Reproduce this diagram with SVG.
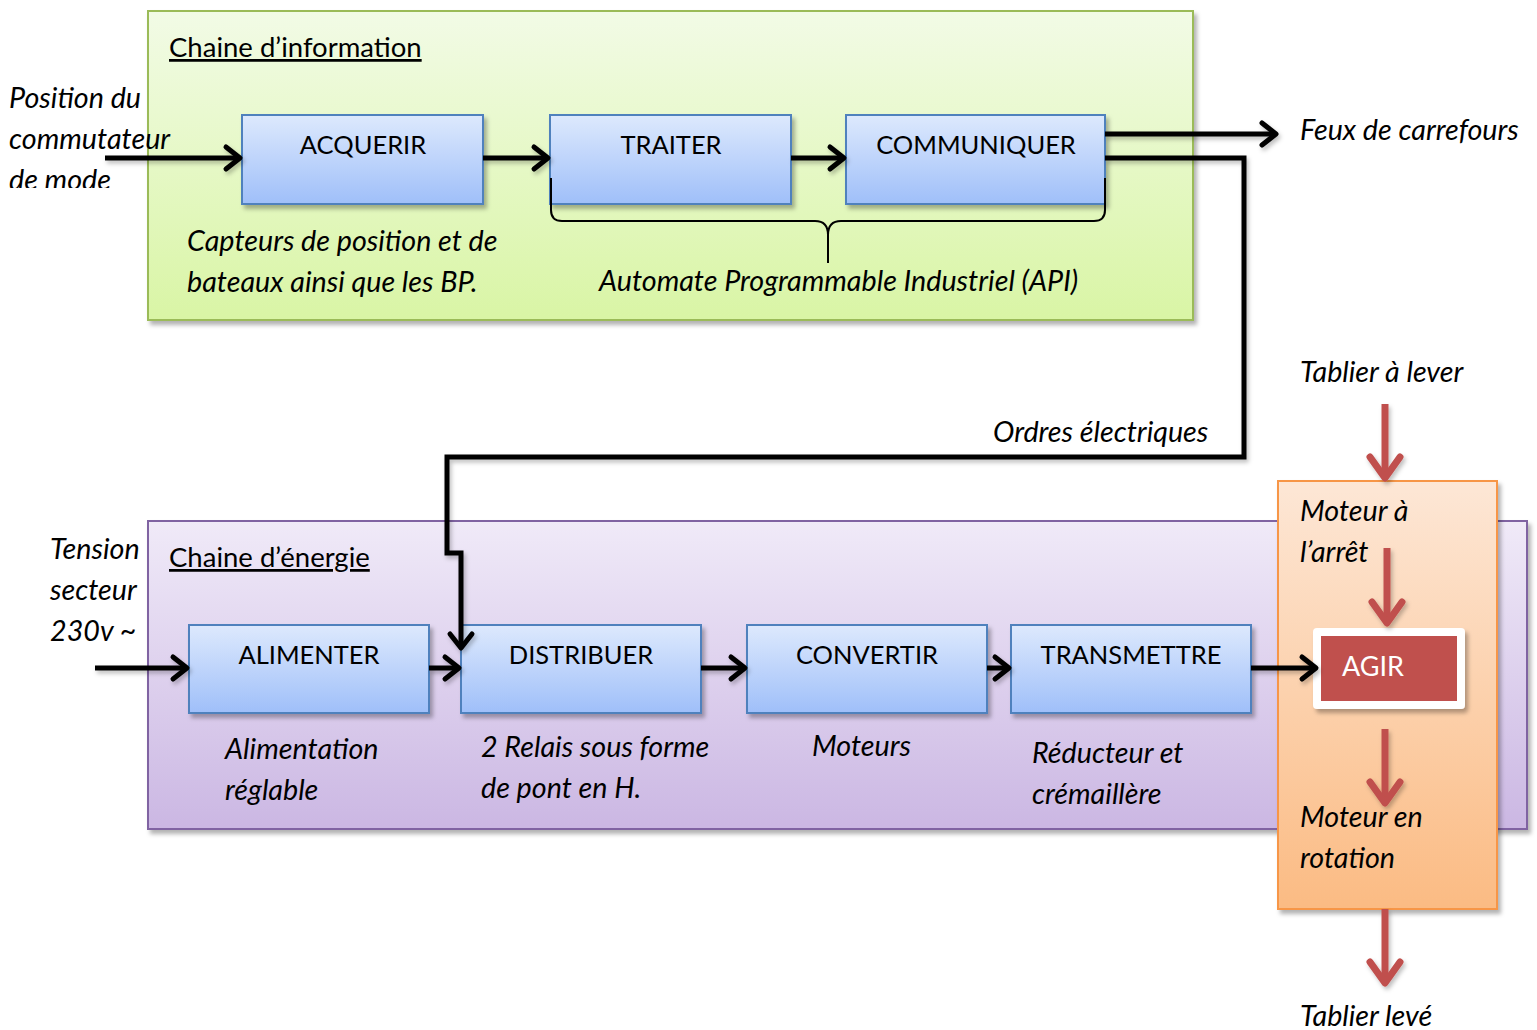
<svg xmlns="http://www.w3.org/2000/svg" width="1537" height="1030" viewBox="0 0 1537 1030">
<defs>
<style>
.t{font-family:Lato,"Liberation Sans",sans-serif;font-size:28.7px;fill:#000}
.it{font-style:italic}
.title{font-family:Lato,"Liberation Sans",sans-serif;font-size:27.5px;text-decoration:underline}
.box{fill:url(#gBlue);stroke:#4f81bd;stroke-width:2}
.bl{font-family:Lato,"Liberation Sans",sans-serif;font-size:25.5px;text-anchor:middle}
.k{fill:none;stroke:#000;stroke-width:5}
.r{fill:none;stroke:#c0504d;stroke-width:7}
</style>
<linearGradient id="gBlue" x1="0" y1="0" x2="0" y2="1"><stop offset="0" stop-color="#dde9fd"/><stop offset="1" stop-color="#9fbff9"/></linearGradient>
<linearGradient id="gGreen" x1="0" y1="0" x2="0" y2="1"><stop offset="0" stop-color="#f2fbe6"/><stop offset="1" stop-color="#d9f5a5"/></linearGradient>
<linearGradient id="gPurple" x1="0" y1="0" x2="0" y2="1"><stop offset="0" stop-color="#f0eaf8"/><stop offset="1" stop-color="#cbb7e3"/></linearGradient>
<linearGradient id="gOrange" x1="0" y1="0" x2="0" y2="1"><stop offset="0" stop-color="#fde7d6"/><stop offset="1" stop-color="#fbbb83"/></linearGradient>
<filter id="sh" x="-5%" y="-5%" width="115%" height="120%"><feDropShadow dx="3" dy="4" stdDeviation="2" flood-color="#000" flood-opacity="0.3"/></filter>
<filter id="shl" x="-5%" y="-5%" width="115%" height="120%"><feDropShadow dx="2" dy="3" stdDeviation="2" flood-color="#000" flood-opacity="0.25"/></filter>
<marker id="ak" markerUnits="userSpaceOnUse" viewBox="-20 -15 24 30" refX="0" refY="0" markerWidth="24" markerHeight="30" orient="auto">
<path d="M-14,-11 L0,0 L-14,11" fill="none" stroke="#000" stroke-width="5" stroke-linecap="round" stroke-linejoin="round"/>
</marker>
<marker id="ar" markerUnits="userSpaceOnUse" viewBox="-30 -22 34 44" refX="0" refY="0" markerWidth="34" markerHeight="44" orient="auto">
<path d="M-21,-15 L0,0 L-21,15" fill="none" stroke="#c0504d" stroke-width="7" stroke-linecap="round" stroke-linejoin="round"/>
</marker>
<clipPath id="clipTop"><rect x="0" y="0" width="300" height="188"/></clipPath>
</defs>

<rect width="1537" height="1030" fill="#fff"/>

<g id="chaine-information">
<rect x="148" y="11" width="1045" height="309" fill="url(#gGreen)" stroke="#9bbb59" stroke-width="2" filter="url(#sh)"/>
<text class="title" x="169" y="57">Chaine d’information</text>
</g>

<g id="chaine-energie">
<rect x="148" y="521" width="1379" height="308" fill="url(#gPurple)" stroke="#8064a2" stroke-width="2" filter="url(#sh)"/>
<text class="title" x="169" y="567">Chaine d’énergie</text>
</g>

<g id="agir-zone">
<rect x="1278" y="481" width="219" height="428" fill="url(#gOrange)" stroke="#f79646" stroke-width="2" filter="url(#sh)"/>
<text class="t it" x="1300" y="521">Moteur à</text>
<text class="t it" x="1300" y="562">l’arrêt</text>
<text class="t it" x="1300" y="827">Moteur en</text>
<text class="t it" x="1300" y="868">rotation</text>
</g>

<g id="acquerir">
<rect class="box" x="242" y="115" width="241" height="89" filter="url(#sh)"/>
<text class="bl" x="363" y="154">ACQUERIR</text>
</g>
<g id="traiter">
<rect class="box" x="550" y="115" width="241" height="89" filter="url(#sh)"/>
<text class="bl" x="671" y="154">TRAITER</text>
</g>
<g id="communiquer">
<rect class="box" x="846" y="115" width="259" height="89" filter="url(#sh)"/>
<text class="bl" x="976" y="154">COMMUNIQUER</text>
</g>

<g id="alimenter">
<rect class="box" x="189" y="625" width="240" height="88" filter="url(#sh)"/>
<text class="bl" x="309" y="664">ALIMENTER</text>
</g>
<g id="distribuer">
<rect class="box" x="461" y="625" width="240" height="88" filter="url(#sh)"/>
<text class="bl" x="581" y="664">DISTRIBUER</text>
</g>
<g id="convertir">
<rect class="box" x="747" y="625" width="240" height="88" filter="url(#sh)"/>
<text class="bl" x="867" y="664">CONVERTIR</text>
</g>
<g id="transmettre">
<rect class="box" x="1011" y="625" width="240" height="88" filter="url(#sh)"/>
<text class="bl" x="1131" y="664">TRANSMETTRE</text>
</g>

<g id="agir">
<rect x="1313" y="628" width="152" height="81" rx="4" fill="#fff" filter="url(#sh)"/>
<rect x="1321" y="636" width="136" height="65" fill="#c0504d"/>
<text class="t" x="1342" y="676" style="fill:#fff;font-size:27px">AGIR</text>
</g>

<g id="api-brace">
<path d="M551,178 L551,210 Q551,221 562,221 L815,221 Q828,221 828,235 L828,263 M828,235 Q828,221 841,221 L1094,221 Q1105,221 1105,210 L1105,178" fill="none" stroke="#000" stroke-width="2"/>
</g>

<g id="connectors" filter="url(#shl)">
<path class="k" d="M105,158 H240" marker-end="url(#ak)"/>
<path class="k" d="M483,158 H548" marker-end="url(#ak)"/>
<path class="k" d="M791,158 H844" marker-end="url(#ak)"/>
<path class="k" d="M1105,134 H1276" marker-end="url(#ak)"/>
<path class="k" d="M1105,158 H1244 V457 H447 V553 H461 V648" stroke-linejoin="miter" marker-end="url(#ak)"/>
<path class="k" d="M95,668 H187" marker-end="url(#ak)"/>
<path class="k" d="M429,668 H459" marker-end="url(#ak)"/>
<path class="k" d="M701,668 H745" marker-end="url(#ak)"/>
<path class="k" d="M987,668 H1009" marker-end="url(#ak)"/>
<path class="k" d="M1251,668 H1316" marker-end="url(#ak)"/>
<path class="r" d="M1385,404 V478" marker-end="url(#ar)"/>
<path class="r" d="M1387,548 V623" marker-end="url(#ar)"/>
<path class="r" d="M1385,729 V803" marker-end="url(#ar)"/>
<path class="r" d="M1385,909 V983" marker-end="url(#ar)"/>
</g>

<g id="labels">
<g clip-path="url(#clipTop)">
<text class="t it" x="9" y="108">Position du</text>
<text class="t it" x="9" y="149">commutateur</text>
<text class="t it" x="9" y="190">de mode</text>
</g>
<text class="t it" x="187" y="251">Capteurs de position et de</text>
<text class="t it" x="187" y="292">bateaux ainsi que les BP.</text>
<text class="t it" x="599" y="291">Automate Programmable Industriel (API)</text>
<text class="t it" x="1300" y="140">Feux de carrefours</text>
<text class="t it" x="993" y="442">Ordres électriques</text>
<text class="t it" x="1300" y="382">Tablier à lever</text>
<text class="t it" x="1300" y="1026">Tablier levé</text>
<text class="t it" x="50" y="559">Tension</text>
<text class="t it" x="50" y="600">secteur</text>
<text class="t it" x="50" y="641">230v ~</text>
<text class="t it" x="225" y="759">Alimentation</text>
<text class="t it" x="225" y="800">réglable</text>
<text class="t it" x="481" y="757">2 Relais sous forme</text>
<text class="t it" x="481" y="798">de pont en H.</text>
<text class="t it" x="812" y="756">Moteurs</text>
<text class="t it" x="1032" y="763">Réducteur et</text>
<text class="t it" x="1032" y="804">crémaillère</text>
</g>
</svg>
